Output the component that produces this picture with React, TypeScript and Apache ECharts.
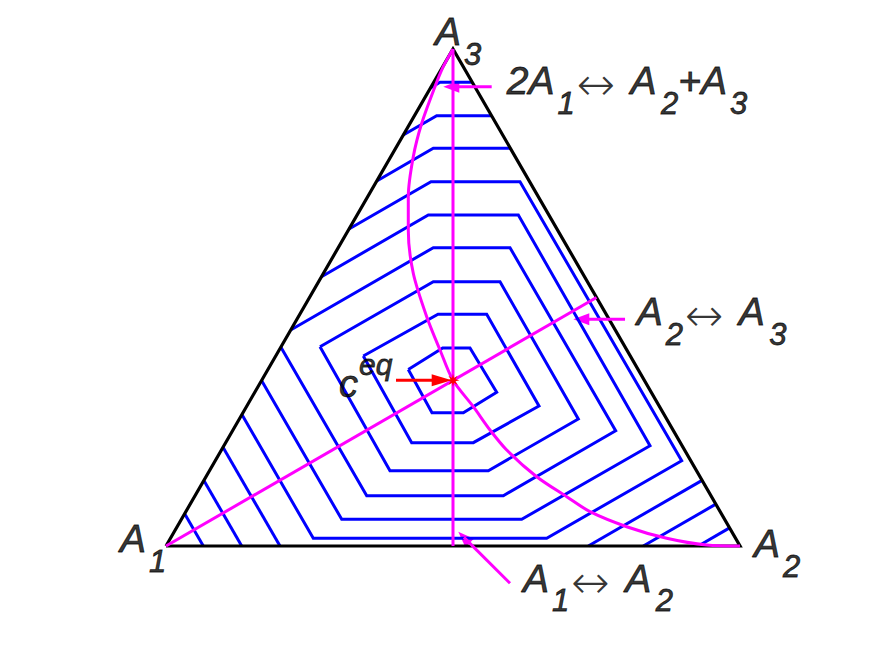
import { useEffect, useRef } from "react";
import * as echarts from "echarts";

// ---------- data (triangle side = 100 units, y upward; A1 = (0,0)) ----------
const triangle = [[0, 0], [100, 0], [50, 86.6], [0, 0]];
const cEq = [50, 28.87];

// partial-equilibrium lines
const lineA1A2 = [[50, 86.6], [50, 0]];
const lineA2A3 = [[0, 0], [75, 43.3]];
const curve2A1A2A3 = [
  [50, 86.6], [48.3, 83.5], [46.86, 80.02], [44.55, 73.64], [43.08, 67.82],
  [42.21, 60.85], [42.21, 55.05], [43.08, 47.51], [45.42, 39.95], [47.74, 34.15],
  [50, 28.87], [53.54, 24.27], [56.45, 20.21], [59.36, 16.72], [64.58, 12.07],
  [69.81, 8.59], [73.87, 5.98], [80.26, 3.36], [87.23, 1.34], [94.2, 0.17], [100, 0],
];

// level lines (innermost first); each is a list of polylines
const contour1 = [[[42.21, 30.75], [48.2, 34.49], [52.96, 34.49], [57.61, 26.78], [51.8, 23.22], [46.34, 23.22], [42.21, 30.75]]];
const contour2 = [[[34.37, 33.1], [47.39, 40.37], [55.87, 40.37], [64.98, 24.39], [53.54, 18.0], [42.8, 18.0], [34.37, 33.1]]];
const contour3 = [[[26.83, 34.72], [46.57, 46.05], [58.19, 46.05], [71.83, 22.13], [56.15, 13.12], [39.02, 13.12], [26.83, 34.72]]];
const contour4 = [[[21.72, 37.62], [46.57, 51.97], [59.93, 51.97], [78.34, 20.09], [58.76, 8.76], [34.97, 8.76], [20.05, 34.6]]];
const contour5 = [[[27.09, 46.92], [45.7, 57.67], [61.38, 57.67], [84.32, 17.47], [61.97, 4.65], [30.61, 4.65], [16.65, 28.84]]];
const contour6 = [[[31.88, 55.22], [46.17, 63.47], [61.67, 63.47], [89.84, 14.86], [66.32, 1.34], [25.66, 1.34], [13.22, 22.89]]];
const contour7 = [
  [[36.72, 63.6], [46.57, 69.29], [60.0, 69.29]],
  [[9.93, 17.2], [19.86, 0]],
  [[93.39, 11.44], [73.57, 0]],
];
const contour8 = [
  [[41.34, 71.6], [47.16, 74.97], [56.72, 74.97]],
  [[6.6, 11.42], [13.19, 0]],
  [[95.79, 7.29], [83.15, 0]],
];
const contour9 = [
  [[46.08, 79.82], [47.74, 80.78], [53.36, 80.78]],
  [[3.25, 5.63], [6.5, 0]],
  [[98.18, 3.15], [92.74, 0]],
];
const contours = [contour1, contour2, contour3, contour4, contour5, contour6, contour7, contour8, contour9];

// annotation arrows (start -> tip)
const magentaArrowStarts = [[56.74, 80.02], [79.97, 39.49], [59.93, -6.5]];
const magentaArrowTips = [[48.31, 80.02], [70.96, 39.49], [50.92, 2.49]];
const eqArrowStart = [40.07, 28.87];
const eqArrowTip = [49.77, 28.87];

// labels (rich text) and their top-left anchors
const labelTexts = [
  "{m|A}{s|3}",
  "{m|A}{s|1}",
  "{m|A}{s|2}",
  "{m|2A}{s|1}{r|↔}{m| A}{s|2}{m|+A}{s|3}",
  "{m|A}{s|2}{r|↔}{m| A}{s|3}",
  "{m|A}{s|1}{r|↔}{m| A}{s|2}",
  "{c|c}{e|eq}",
];
const labelAnchors = [
  [46.86, 93.03],
  [-8.01, 4.7],
  [102.44, 3.75],
  [59.36, 84.41],
  [82.0, 44.22],
  [62.2, -2.23],
  [30.14, 34.77],
];

// ---------- view ----------
const W = 875;
const H = 656;
const PX_PER_UNIT = 5.74;
const ORIGIN_PX = [166, 546];
const X_MIN = -ORIGIN_PX[0] / PX_PER_UNIT;
const X_MAX = (W - ORIGIN_PX[0]) / PX_PER_UNIT;
const Y_MIN = -(H - ORIGIN_PX[1]) / PX_PER_UNIT;
const Y_MAX = ORIGIN_PX[1] / PX_PER_UNIT;

const BLUE = "#0000ff";
const MAGENTA = "#ff00ff";
const RED = "#ff0000";

function head(from: number[], to: number[], lenPx: number) {
  const dx = to[0] - from[0];
  const dy = to[1] - from[1];
  const d = Math.hypot(dx, dy);
  const back = lenPx / 2 / PX_PER_UNIT;
  return {
    value: [to[0] - (dx / d) * back, to[1] - (dy / d) * back],
    symbolRotate: (Math.atan2(dy, dx) * 180) / Math.PI - 90,
  };
}

function starPath() {
  const pts: string[] = [];
  for (let i = 0; i < 16; i++) {
    const a = (i * Math.PI) / 8;
    const r = i % 2 === 0 ? 6 : 2.4;
    pts.push(`${(r * Math.cos(a)).toFixed(2)},${(r * Math.sin(a)).toFixed(2)}`);
  }
  return "path://M" + pts.join("L") + "Z";
}

function lineSeries(data: number[][], color: string, width: number, extra: any = {}) {
  return {
    type: "line",
    data,
    symbol: "none",
    showSymbol: false,
    silent: true,
    animation: false,
    lineStyle: { color, width, join: "miter", cap: "butt" },
    ...extra,
  };
}

const FONT = "'Liberation Sans', Arial, Helvetica, sans-serif";
const TXT = { color: "#000", textBorderWidth: 0.8, textBorderColor: "#000" };

export default function App() {
  const ref = useRef<HTMLDivElement>(null);
  useEffect(() => {
    if (!ref.current) return;
    const chart = echarts.init(ref.current, null, { renderer: "svg" });
    const series: any[] = [];
    contours.forEach((c) => c.forEach((piece) => series.push(lineSeries(piece, BLUE, 3))));
    series.push(lineSeries(triangle, "#000000", 3.2));
    series.push(lineSeries(lineA1A2, MAGENTA, 3));
    series.push(lineSeries(lineA2A3, MAGENTA, 3));
    series.push(lineSeries(curve2A1A2A3, MAGENTA, 3, { smooth: 0.3 }));

    const magHeads = magentaArrowStarts.map((s, i) => head(s, magentaArrowTips[i], 16));
    magentaArrowStarts.forEach((s, i) => series.push(lineSeries([s, magHeads[i].value], MAGENTA, 3)));
    series.push({
      type: "scatter",
      data: magHeads,
      symbol: "triangle",
      symbolSize: [12, 16],
      silent: true,
      itemStyle: { color: MAGENTA, opacity: 1 },
    });
    const eqHead = head(eqArrowStart, eqArrowTip, 20);
    series.push(lineSeries([eqArrowStart, eqHead.value], RED, 3));
    series.push({
      type: "scatter",
      data: [eqHead],
      symbol: "triangle",
      symbolSize: [12, 20],
      silent: true,
      itemStyle: { color: RED, opacity: 1 },
    });
    series.push({
      type: "scatter",
      data: [cEq],
      symbol: starPath(),
      symbolSize: 13,
      silent: true,
      z: 5,
      itemStyle: { color: RED, opacity: 1 },
    });

    const main = { ...TXT, fontSize: 39, fontStyle: "italic", fontFamily: FONT, verticalAlign: "top" };
    const sub = { ...TXT, fontSize: 31, fontStyle: "italic", fontFamily: FONT, verticalAlign: "top", padding: [26.5, 0, 0, 3] };
    series.push({
      type: "scatter",
      symbolSize: 0,
      silent: true,
      z: 10,
      itemStyle: { color: "#000" },
      data: labelAnchors.map((a, i) => ({
        value: a,
        label: { formatter: labelTexts[i] },
      })),
      label: {
        show: true,
        position: [0, 0],
        align: "left",
        verticalAlign: "top",
        color: "#000",
        textBorderWidth: 0,
        rich: {
          m: main,
          s: sub,
          r: {
            color: "#000",
            textBorderWidth: 0,
            fontSize: 46,
            fontWeight: 200,
            fontFamily: "'DejaVu Sans', sans-serif",
            verticalAlign: "top",
            padding: [0, 6, 0, 2],
          },
          c: { ...TXT, fontSize: 38, fontStyle: "italic", fontFamily: FONT, verticalAlign: "top", padding: [18.8, 0, 0, 0] },
          e: { ...TXT, fontSize: 30, fontStyle: "italic", fontFamily: FONT, verticalAlign: "top", padding: [3, 0, 0, 1] },
        },
      },
    });

    chart.setOption({
      animation: false,
      grid: { left: 0, right: 0, top: 0, bottom: 0, containLabel: false },
      xAxis: { type: "value", min: X_MIN, max: X_MAX, show: false },
      yAxis: { type: "value", min: Y_MIN, max: Y_MAX, show: false },
      series,
    });
    return () => chart.dispose();
  }, []);
  return (
    <div
      ref={ref}
      style={{ position: "absolute", left: 0, top: 0, width: W, height: H, background: "#fff" }}
    />
  );
}
